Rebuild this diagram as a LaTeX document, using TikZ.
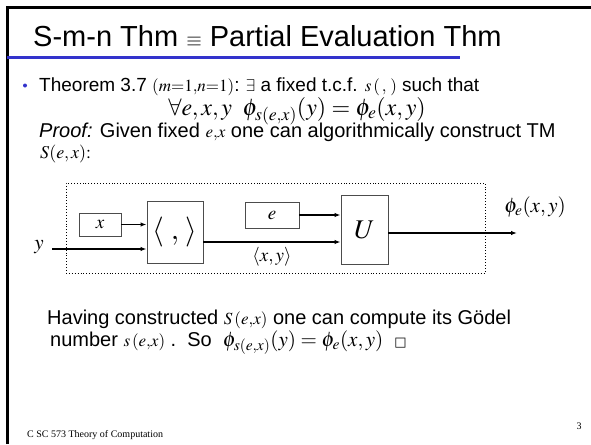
\documentclass[tikz,border=0pt]{standalone}
\usepackage{mathptmx}
\usepackage[no-math]{fontspec}
\setmainfont{Liberation Sans}
\newfontfamily\serifx{Liberation Serif}
\newfontfamily\dejavu{DejaVu Sans}
\usetikzlibrary{arrows.meta}
\definecolor{blueline}{RGB}{51,51,204}
\newcommand{\mth}[1]{{\fontsize{17}{20}\selectfont$#1$}}
\tikzset{
  blk/.style={draw=black!70, line width=0.9pt, fill=white, inner sep=0pt},
  arr/.style={-{Latex[length=6pt,width=4.5pt]}, line width=1.3pt},
  txt/.style={anchor=base west, inner sep=0pt, font=\fontsize{20}{23}\selectfont},
  lbl/.style={inner sep=0pt},
}
\begin{document}
\begin{tikzpicture}[x=1pt,y=-1pt]
\useasboundingbox (0,0) rectangle (591,444);
\fill[white] (0,0) rectangle (591,444);
% frame
\draw[line width=3pt] (7.5,444) -- (7.5,7.5);
\draw[line width=2.2pt] (6,7.5) -- (591,7.5);
\draw[line width=3pt, blueline] (7,58) -- (460,58);
% title
\node[anchor=base west, inner sep=0pt, font=\fontsize{29}{34}\selectfont] (title) at (33,46) {S-m-n Thm {\fontsize{20}{24}\selectfont$\equiv$} Partial Evaluation Thm};
% bullet
\node[circle, fill=blueline, inner sep=0pt, minimum size=4pt] (bul) at (25,85.5) {};
\node[anchor=base west, inner sep=0pt, font=\fontsize{19}{22}\selectfont] (l1) at (39,91.5) {Theorem 3.7 \mth{(m{=}1{,}n{=}1)}:\,\,\mth{\exists} a fixed t.c.f. \mth{s\,(\,,\,)} such that};
\node[anchor=base, inner sep=0pt, font=\fontsize{24}{28}\selectfont] (l2) at (297,115) {$\forall e,x,y\;\;\phi_{s(e,x)}(y)=\phi_e(x,y)$};
\node[txt] (l3) at (39,137) {\textit{Proof:} Given fixed \mth{e{,}x} one can algorithmically construct TM};
\node[anchor=base west, inner sep=0pt, font=\fontsize{18}{21}\selectfont] (l4) at (40,158) {$S(e,x){:}$};
% diagram
\node[draw, dotted, line width=0.9pt, minimum width=419pt, minimum height=90pt, inner sep=0pt] (frame) at (275.5,228) {};
\node[blk, minimum width=42pt, minimum height=23pt, font=\fontsize{19}{22}\selectfont] (xb) at (100,224.5) {$x$};
\node[blk, minimum width=56pt, minimum height=62pt, font=\fontsize{30}{34}\selectfont] (pair) at (175,232) {$\langle\;,\,\rangle$};
\node[blk, minimum width=54pt, minimum height=26pt, font=\fontsize{19}{22}\selectfont] (eb) at (272,215) {$e$};
\node[blk, minimum width=47pt, minimum height=69pt, font=\fontsize{27}{30}\selectfont] (U) at (364.5,229.5) {$U$};
\node[lbl, font=\fontsize{21}{24}\selectfont] (ylab) at (39,247) {$y$};
\coordinate (ystart) at (52,249);
\coordinate (out) at (517,233);
\draw[arr] (ystart) -- (ystart -| pair.west);
\draw[arr] (xb.east) -- (xb.east -| pair.west);
\draw[arr] (eb.east) -- (eb.east -| U.west);
\draw[arr] ([yshift=-10pt]pair.east) -- ([yshift=-10pt]pair.east -| U.west);
\draw[arr] ([yshift=-3.5pt]U.east) -- (out);
\node[lbl, font=\fontsize{19}{22}\selectfont] (pxy) at (272,257) {$\langle x,y\rangle$};
\node[lbl, font=\fontsize{21}{24}\selectfont] (phiout) at (535,207) {$\phi_e(x,y)$};
% bottom text
\node[txt] (b1) at (47,324) {Having constructed \mth{S\,(e{,}x)} one can compute its Gödel};
\node[txt] (b2) at (50,346) {number \mth{s\,(e{,}x)} .\ \ So\ \ {\fontsize{21}{25}\selectfont$\phi_{s(e,x)}(y)=\phi_e(x,y)$}\ \ {\dejavu\fontsize{13}{15}\selectfont □}};
% footer
\node[anchor=base west, inner sep=0pt, font=\serifx\fontsize{10}{12}\selectfont] (foot) at (27,437) {C SC 573 Theory of Computation};
\node[anchor=base, inner sep=0pt, font=\serifx\fontsize{10}{12}\selectfont] (pg) at (579,429) {3};
\end{tikzpicture}
\end{document}
